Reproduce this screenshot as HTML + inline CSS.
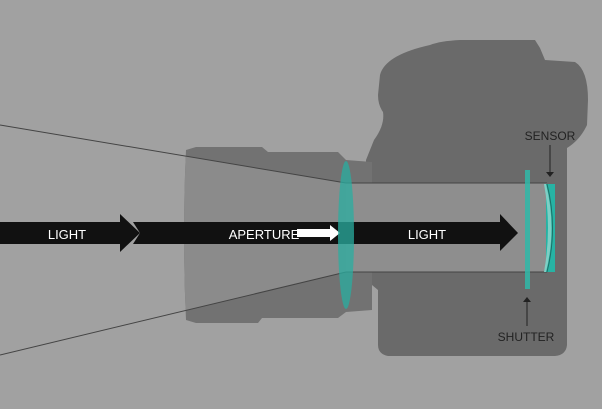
<!DOCTYPE html>
<html><head><style>
html,body{margin:0;padding:0;background:#a0a0a0;}
svg{display:block;}
text{font-family:"Liberation Sans",sans-serif;}
</style></head><body>
<svg width="602" height="409" viewBox="0 0 602 409" xmlns="http://www.w3.org/2000/svg">
<defs>
<clipPath id="barrel"><path d="M186,150 L196,147 L262,147 L268,152 L338,152 L346,160 L372,162 L372,310 L346,312 L338,318 L262,318 L258,323 L196,323 L186,320 Q182,235 186,150 Z"/></clipPath>
</defs>
<rect width="602" height="409" fill="#a1a1a1"/>
<!-- camera body -->
<path d="M380,75 Q385,55 430,45 Q440,41 460,40 L535,40 L540,48 L545,60 L575,62 Q588,70 588,100 L587,125 Q580,140 567,148 L567,345 Q566,355 555,356 L388,356 Q378,354 378,345 L378,290 L372,285 L366,280 L366,160 L370,150 L374,140 Q385,125 383,112 Q378,105 378,95 Z" fill="#6a6a6a"/>
<!-- lens barrel -->
<path d="M186,150 L196,147 L262,147 L268,152 L338,152 L346,160 L372,162 L372,310 L346,312 L338,318 L262,318 L258,323 L196,323 L186,320 Q182,235 186,150 Z" fill="#727272"/>
<polygon points="180,155 346,183 346,272 180,312" fill="#8b8b8b" clip-path="url(#barrel)"/>
<line x1="0" y1="125" x2="346" y2="183" stroke="#444" stroke-width="1"/>
<line x1="0" y1="355" x2="346" y2="272" stroke="#444" stroke-width="1"/>
<!-- tube -->
<rect x="346" y="183" width="201" height="89" fill="#8e8e8e"/>
<line x1="346" y1="183" x2="547" y2="183" stroke="#444" stroke-width="1"/>
<line x1="346" y1="272" x2="547" y2="272" stroke="#444" stroke-width="1"/>
<!-- arrows -->
<polygon points="0,222 120,222 120,214 140,233 120,252 120,244 0,244" fill="#111"/>
<polygon points="133,222 500,222 500,214 518,233 500,251 500,244 133,244 140,233" fill="#111"/>
<polygon points="297,229 330,229 330,225 340,233 330,241 330,237 297,237" fill="#fff"/>
<text x="67" y="239" fill="#fff" font-size="13" text-anchor="middle">LIGHT</text>
<text x="264" y="239" fill="#fff" font-size="13" text-anchor="middle">APERTURE</text>
<text x="427" y="239" fill="#fff" font-size="13" text-anchor="middle">LIGHT</text>
<!-- lens element -->
<ellipse cx="346" cy="235" rx="8" ry="74" fill="#2aaea0" opacity="0.75"/>
<!-- shutter -->
<rect x="525" y="170" width="5" height="119" fill="#2fb8a8" opacity="0.85"/>
<!-- sensor -->
<rect x="546" y="184" width="9" height="88" fill="#27b3a4"/>
<path d="M546,184 Q557,228 546,272 L544,272 Q552,228 544,184 Z" fill="#7ecfc5"/>
<path d="M547,184 Q558,228 547,272" fill="none" stroke="#1d6f66" stroke-width="1"/>
<!-- labels -->
<text x="550" y="140" fill="#222" font-size="12" text-anchor="middle">SENSOR</text>
<line x1="550" y1="145" x2="550" y2="172" stroke="#222" stroke-width="1"/>
<polygon points="546,172 554,172 550,177" fill="#222"/>
<polygon points="523,302 531,302 527,297" fill="#222"/>
<line x1="527" y1="302" x2="527" y2="326" stroke="#222" stroke-width="1"/>
<text x="526" y="341" fill="#222" font-size="12" text-anchor="middle">SHUTTER</text>
</svg>
</body></html>
